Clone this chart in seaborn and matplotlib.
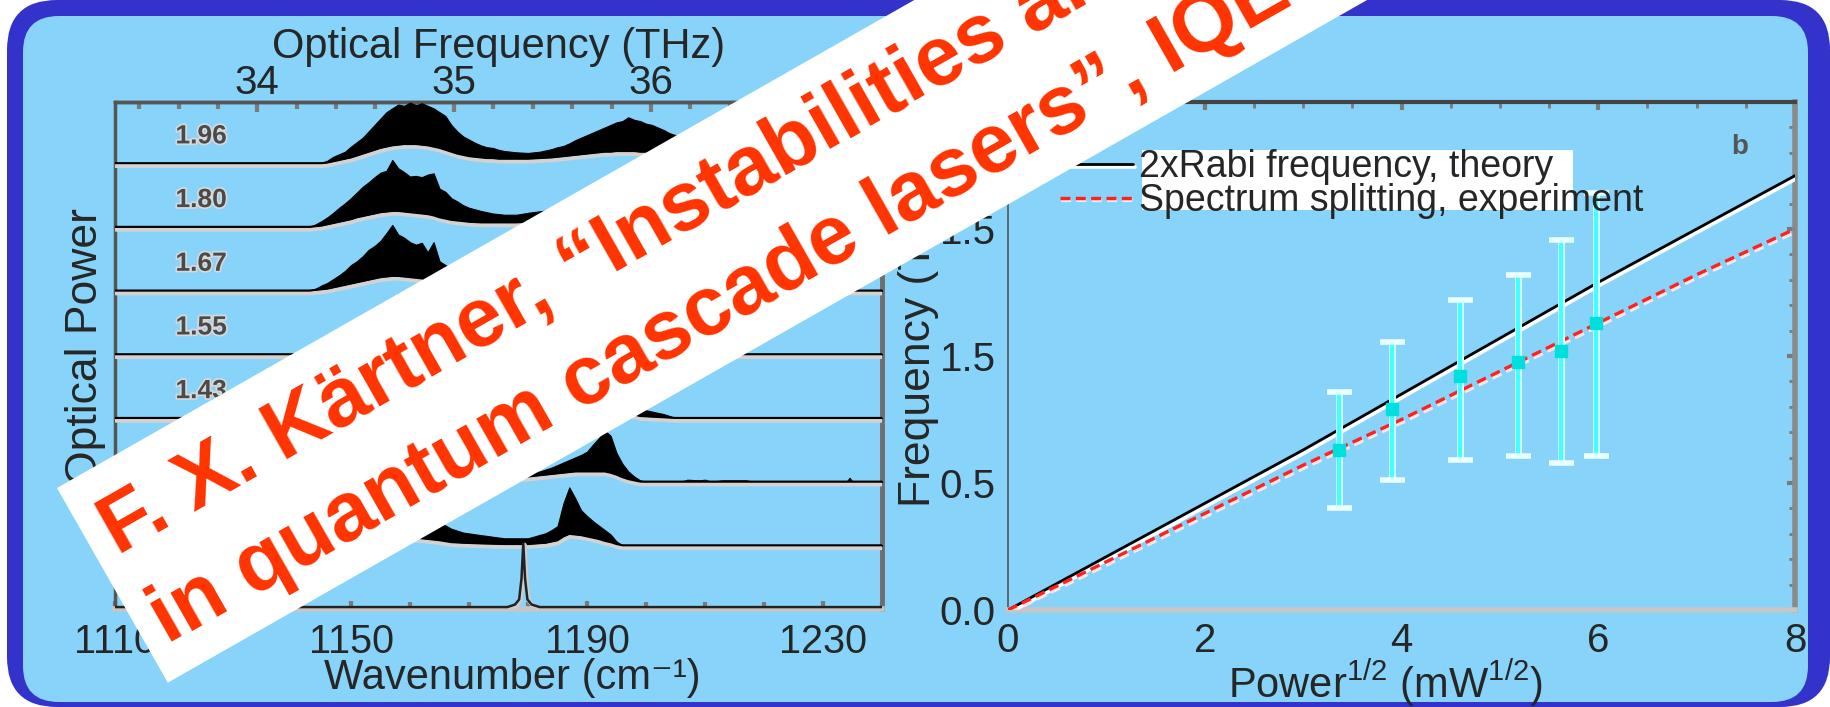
import numpy as np
import matplotlib
matplotlib.use("Agg")
import matplotlib.pyplot as plt
import matplotlib.patheffects as pe
from matplotlib.patches import FancyBboxPatch, Polygon, Rectangle
from matplotlib.ticker import MultipleLocator, FixedLocator
import seaborn as sns

# ---------------- left panel: stacked emission spectra ----------------
power_labels = ["1.96", "1.80", "1.67", "1.55", "1.43"]
trace_offsets = [7, 6, 5, 4, 3, 2, 1]
bottom_offset = 0.03

k1 = [1110, 1145, 1146, 1147, 1148, 1149, 1150, 1151, 1152, 1153, 1154, 1155, 1156, 1157, 1158,
      1159, 1160, 1161, 1162, 1163, 1164, 1165, 1166, 1167, 1168, 1169, 1170, 1171, 1172, 1173,
      1174, 1175, 1176, 1178, 1180, 1182, 1184, 1185, 1186, 1187, 1188, 1189, 1190, 1191, 1192,
      1193, 1194, 1195, 1196, 1197, 1198, 1199, 1200, 1201, 1202, 1203, 1204, 1205, 1206, 1207,
      1208, 1209, 1210, 1212, 1214, 1216, 1218, 1220, 1240]
up1 = [0, 0, 0.04, 0.10, 0.14, 0.18, 0.26, 0.33, 0.40, 0.50, 0.60, 0.70, 0.80, 0.86, 0.92,
       0.90, 0.95, 0.91, 0.94, 0.90, 0.86, 0.80, 0.74, 0.60, 0.50, 0.42, 0.37, 0.32, 0.28, 0.25,
       0.24, 0.21, 0.19, 0.17, 0.16, 0.18, 0.22, 0.25, 0.27, 0.31, 0.36, 0.40, 0.44, 0.48, 0.52,
       0.56, 0.60, 0.64, 0.66, 0.72, 0.68, 0.66, 0.62, 0.60, 0.56, 0.52, 0.47, 0.44, 0.40, 0.35,
       0.30, 0.27, 0.22, 0.15, 0.10, 0.05, 0.02, 0, 0]
lo1 = [0, 0, 0.01, 0.03, 0.05, 0.07, 0.09, 0.12, 0.15, 0.18, 0.21, 0.24, 0.26, 0.28, 0.29,
       0.30, 0.30, 0.30, 0.29, 0.28, 0.26, 0.24, 0.21, 0.18, 0.15, 0.13, 0.11, 0.10, 0.09, 0.08,
       0.08, 0.07, 0.07, 0.07, 0.07, 0.08, 0.09, 0.10, 0.11, 0.12, 0.13, 0.14, 0.15, 0.16, 0.17,
       0.18, 0.18, 0.19, 0.19, 0.19, 0.19, 0.18, 0.18, 0.17, 0.16, 0.15, 0.14, 0.13, 0.12, 0.10,
       0.09, 0.08, 0.07, 0.05, 0.03, 0.02, 0.01, 0, 0]

k2 = [1110, 1143, 1144, 1145, 1146, 1147, 1148, 1149, 1150, 1151, 1152, 1153, 1154, 1155, 1156,
      1157, 1158, 1159, 1160, 1161, 1162, 1163, 1164, 1165, 1166, 1167, 1168, 1169, 1170, 1172,
      1174, 1176, 1178, 1180, 1185, 1190, 1195, 1198, 1203, 1208, 1213, 1218, 1240]
up2 = [0, 0, 0.04, 0.09, 0.15, 0.22, 0.30, 0.37, 0.45, 0.54, 0.63, 0.70, 0.78, 0.85, 0.88,
       1.05, 0.92, 0.86, 0.79, 0.80, 0.78, 0.82, 0.84, 0.60, 0.55, 0.45, 0.40, 0.34, 0.30, 0.25,
       0.21, 0.19, 0.19, 0.22, 0.28, 0.40, 0.48, 0.50, 0.38, 0.22, 0.08, 0, 0]
lo2 = [0, 0, 0.01, 0.02, 0.04, 0.06, 0.08, 0.10, 0.12, 0.15, 0.17, 0.19, 0.21, 0.23, 0.24,
       0.25, 0.25, 0.24, 0.23, 0.22, 0.21, 0.20, 0.18, 0.15, 0.13, 0.11, 0.10, 0.09, 0.08, 0.07,
       0.07, 0.07, 0.07, 0.08, 0.09, 0.12, 0.14, 0.14, 0.11, 0.07, 0.03, 0, 0]

k3 = [1110, 1143, 1144, 1145, 1146, 1147, 1148, 1149, 1150, 1151, 1152, 1153, 1154, 1155, 1156,
      1157, 1158, 1159, 1160, 1161, 1162, 1163, 1164, 1165, 1166, 1168, 1172, 1178, 1185, 1190,
      1195, 1200, 1205, 1210, 1215, 1240]
up3 = [0, 0, 0.03, 0.08, 0.12, 0.18, 0.24, 0.31, 0.40, 0.46, 0.54, 0.64, 0.70, 0.78, 0.90,
       1.03, 0.88, 0.83, 0.76, 0.72, 0.75, 0.60, 0.76, 0.46, 0.40, 0.30, 0.18, 0.14, 0.22, 0.32,
       0.38, 0.30, 0.15, 0.05, 0, 0]
lo3 = [0, 0, 0.01, 0.02, 0.03, 0.05, 0.07, 0.09, 0.11, 0.13, 0.15, 0.17, 0.19, 0.21, 0.22,
       0.23, 0.23, 0.22, 0.21, 0.20, 0.19, 0.17, 0.15, 0.13, 0.11, 0.09, 0.06, 0.05, 0.07, 0.10,
       0.12, 0.10, 0.05, 0.02, 0, 0]

k4 = [1110, 1146, 1150, 1155, 1158, 1162, 1166, 1170, 1178, 1186, 1192, 1196, 1200, 1205, 1210, 1214, 1240]
up4 = [0, 0, 0.30, 0.70, 0.95, 0.75, 0.45, 0.25, 0.15, 0.30, 0.45, 0.50, 0.35, 0.15, 0.03, 0, 0]
lo4 = [0, 0, 0.10, 0.20, 0.24, 0.20, 0.12, 0.07, 0.05, 0.08, 0.12, 0.13, 0.09, 0.04, 0.01, 0, 0]

k5 = [1110, 1148, 1153, 1158, 1161, 1165, 1170, 1178, 1186, 1192, 1196, 1199, 1201, 1203, 1205, 1240]
up5 = [0, 0, 0.30, 0.70, 0.85, 0.60, 0.30, 0.15, 0.30, 0.50, 0.40, 0.14, 0.10, 0.06, 0, 0]
lo5 = [0, 0, 0.08, 0.18, 0.22, 0.16, 0.08, 0.05, 0.08, 0.13, 0.10, 0.03, 0.02, 0.01, 0, 0]

k6 = [1110, 1150, 1155, 1160, 1163, 1168, 1175, 1180, 1182, 1184, 1186, 1187, 1188, 1189, 1190,
      1191, 1192, 1193, 1194, 1195, 1196, 1197, 1198, 1199, 1200, 1206, 1207, 1209, 1210, 1211,
      1213, 1217, 1218, 1234, 1234.5, 1235, 1240]
up6 = [0, 0, 0.30, 0.70, 0.60, 0.30, 0.15, 0.14, 0.16, 0.22, 0.30, 0.34, 0.38, 0.42, 0.47,
       0.58, 0.68, 0.80, 0.72, 0.45, 0.28, 0.16, 0.08, 0.02, 0, 0, 0.03, 0.02, 0.03, 0,
       0.02, 0.02, 0, 0, 0.06, 0, 0]
lo6 = [0, 0, 0.08, 0.18, 0.15, 0.08, 0.05, 0.08, 0.10, 0.12, 0.14, 0.15, 0.16, 0.16, 0.16,
       0.16, 0.16, 0.16, 0.14, 0.11, 0.07, 0.04, 0.02, 0, 0, 0, 0, 0, 0, 0,
       0, 0, 0, 0, 0, 0, 0]

k7 = [1110, 1152, 1156, 1159, 1161, 1163, 1165, 1167, 1169, 1172, 1176, 1180, 1183, 1184, 1185,
      1186, 1187, 1188, 1189, 1190, 1191, 1192, 1193, 1194, 1195, 1196, 1240]
up7 = [0, 0, 0.30, 0.55, 0.52, 0.45, 0.36, 0.26, 0.20, 0.16, 0.11, 0.11, 0.19, 0.24, 0.30,
       0.66, 0.91, 0.74, 0.55, 0.46, 0.38, 0.31, 0.24, 0.17, 0.06, 0, 0]
lo7 = [0, 0, 0.06, 0.12, 0.12, 0.10, 0.08, 0.05, 0.04, 0.03, 0.02, 0.02, 0.04, 0.06, 0.08,
       0.14, 0.18, 0.17, 0.16, 0.14, 0.12, 0.10, 0.07, 0.05, 0.02, 0, 0]

k8 = [1110, 1176.5, 1177.8, 1178.5, 1178.9, 1179.2, 1179.5, 1179.9, 1180.6, 1182, 1240]
y8 = [0, 0, 0.04, 0.12, 0.45, 1.0, 0.45, 0.12, 0.04, 0, 0]

wn_ticks = [1110, 1150, 1190, 1230]
thz_ticks = [34, 35, 36]

# ---------------- right panel ----------------
sqrt_power = [0, 1, 2, 3, 4, 5, 6, 7, 8]
rabi_theory = [0, 0.21, 0.42, 0.63, 0.85, 1.07, 1.29, 1.50, 1.71]
split_fit = [0, 0.19, 0.38, 0.57, 0.75, 0.94, 1.13, 1.32, 1.50]

meas_x = [3.36, 3.90, 4.59, 5.18, 5.62, 5.98]
meas_y = [0.63, 0.79, 0.92, 0.975, 1.02, 1.13]
meas_hi = [0.86, 1.055, 1.22, 1.32, 1.455, 1.64]
meas_lo = [0.40, 0.51, 0.59, 0.605, 0.58, 0.605]

pw_ticks = [0, 2, 4, 6, 8]
fr_ticks = [0.0, 0.5, 1.0, 1.5]
fr_tick_labels = ["0.0", "0.5", "1.5", "1.5"]

# ---------------- style ----------------
sns.set_style("white")
plt.rcParams["font.family"] = ["Liberation Sans", "DejaVu Sans"]
plt.rcParams["mathtext.fontset"] = "custom"
plt.rcParams["mathtext.rm"] = "Liberation Sans"
plt.rcParams["mathtext.it"] = "Liberation Sans:italic"
plt.rcParams["mathtext.bf"] = "Liberation Sans:bold"

W, H = 1830, 707
fig = plt.figure(figsize=(18.3, 7.07), dpi=100)
fig.patch.set_facecolor("white")


def px2in(x, y):
    return (x / 100.0, (H - y) / 100.0)


fig.add_artist(FancyBboxPatch(px2in(7, 707), 18.23, 7.07,
                              boxstyle="round,pad=0,rounding_size=0.5",
                              transform=fig.dpi_scale_trans, fc="#3333cc", ec="none", zorder=-10))
fig.add_artist(FancyBboxPatch(px2in(23, 702), (1808 - 23) / 100, (702 - 16) / 100,
                              boxstyle="round,pad=0,rounding_size=0.36",
                              transform=fig.dpi_scale_trans, fc="#87d3fa", ec="none", zorder=-9))

axL = fig.add_axes([115 / W, 1 - 609 / H, 767 / W, 507 / H])
axR = fig.add_axes([1008 / W, 1 - 610 / H, 787 / W, 508 / H])
for ax in (axL, axR):
    ax.set_facecolor("none")
    ax.grid(False)

# ---- left panel drawing
base_fx = [pe.SimpleLineShadow(offset=(0.6, -2.0), shadow_color="#d2d2d2", alpha=1.0, linewidth=3.0),
           pe.Normal()]
traces = [(k1, up1, lo1), (k2, up2, lo2), (k3, up3, lo3), (k4, up4, lo4),
          (k5, up5, lo5), (k6, up6, lo6), (k7, up7, lo7)]
for off, (k, up, lo) in zip(trace_offsets, traces):
    k = np.asarray(k, float)
    up = np.asarray(up, float)
    lo = np.asarray(lo, float)
    axL.fill_between(k, off + lo, off + up, color="black", linewidth=0.8, zorder=3)
    axL.plot(k, off + lo, color="black", lw=1.5, zorder=4, path_effects=base_fx)
axL.plot(k8, bottom_offset + np.asarray(y8), color="#222222", lw=1.8, zorder=4,
         path_effects=[pe.SimpleLineShadow(offset=(1, -1), shadow_color="#cccccc", alpha=1, linewidth=3),
                       pe.Normal()])

for off, lab in zip(trace_offsets, power_labels):
    axL.text(1124.6, off + 0.42, lab, ha="center", va="center", fontsize=19, fontweight="bold",
             color="#4a4a4a", zorder=5,
             path_effects=[pe.withStroke(linewidth=2.5, foreground="#d8d8d8")])

axL.set_xlim(1110, 1240)
axL.set_ylim(0, 7.96)
axL.set_yticks([])
axL.xaxis.set_major_locator(FixedLocator(wn_ticks))
axL.xaxis.set_minor_locator(MultipleLocator(10))
axL.tick_params(axis="x", which="major", direction="in", length=6, width=3, color="#7a7a7a",
                labelsize=28.5, pad=10, bottom=True, top=False)
axL.tick_params(axis="x", which="minor", direction="in", length=5, width=3, color="#7a7a7a",
                bottom=True, top=False)
axL.set_xlabel("Wavenumber (cm\u207b\u00b9)", fontsize=30)
axL.xaxis.set_label_coords(0.5176, -0.097)
axL.set_ylabel("Optical Power", fontsize=32)
axL.yaxis.set_label_coords(-0.012, 0.517)
axL.spines["top"].set(color="#555555", lw=2.5)
axL.spines["left"].set(color="#555555", lw=2.5)
axL.spines["right"].set(color="#6e6e6e", lw=3.5)
axL.spines["bottom"].set(color="#c6c6c6", lw=4)

C = 0.0299792458
sec = axL.secondary_xaxis("top", functions=(lambda k: k * C, lambda f: f / C))
sec.set_xticks(thz_ticks)
sec.xaxis.set_minor_locator(MultipleLocator(0.2))
sec.tick_params(axis="x", which="major", direction="in", length=7, width=3, color="#7a7a7a",
                labelsize=29, pad=0)
sec.tick_params(axis="x", which="minor", direction="in", length=5, width=3, color="#7a7a7a")
sec.set_xlabel("Optical Frequency (THz)", fontsize=30, labelpad=4)
sec.spines["top"].set(color="#555555", lw=2.5)

# ---- right panel drawing
white_fx = [pe.SimpleLineShadow(offset=(1.2, -2.0), shadow_color="white", alpha=1.0, linewidth=2.6),
            pe.Normal()]
sns.lineplot(x=sqrt_power, y=rabi_theory, ax=axR, color="black", linewidth=2.0,
             label="2xRabi frequency, theory", path_effects=white_fx, zorder=3)
line_theory = axR.lines[-1]
sns.lineplot(x=sqrt_power, y=split_fit, ax=axR, color="#ff2020", linewidth=2.4,
             linestyle=(0, (3, 1.6)), label="Spectrum splitting, experiment",
             path_effects=[pe.SimpleLineShadow(offset=(1.0, -1.6), shadow_color="#ffe6e6", alpha=1.0,
                                               linewidth=3.0), pe.Normal()], zorder=3)
line_exp = axR.lines[-1]

my = np.asarray(meas_y)
yerr = [my - np.asarray(meas_lo), np.asarray(meas_hi) - my]
eb = axR.errorbar(meas_x, meas_y, yerr=yerr, fmt="s", ms=9, mfc="#00dede", mec="#00dede",
                  ecolor="#44ffff", elinewidth=3, capsize=9, capthick=4, zorder=4)
for cap in eb[1]:
    cap.set_markeredgecolor("#eaffff")
for col in eb[2]:
    col.set_path_effects([pe.Stroke(linewidth=5, foreground="#d8ffff"), pe.Normal()])

axR.set_xlim(0, 8)
axR.set_ylim(0, 2.0)
axR.set_xticks(pw_ticks)
axR.xaxis.set_minor_locator(MultipleLocator(0.5))
axR.set_yticks(fr_ticks)
axR.set_yticklabels(fr_tick_labels)
axR.yaxis.set_minor_locator(MultipleLocator(0.1))
axR.tick_params(which="both", direction="in", top=True, right=True, color="#7a7a7a")
axR.tick_params(which="major", length=6, width=3, labelsize=29)
axR.tick_params(which="minor", length=4, width=2)
axR.tick_params(axis="x", which="major", pad=9)
axR.tick_params(axis="y", which="major", pad=9)
axR.set_xlabel(r"Power$^{\rm 1/2}$ (mW$^{\rm 1/2}$)", fontsize=30)
axR.xaxis.set_label_coords(0.480, -0.094)
axR.set_ylabel("Frequency (THz)", fontsize=32)
axR.yaxis.set_label_coords(-0.0877, 0.531)
axR.spines["top"].set(color="#444444", lw=3)
axR.spines["left"].set(color="#555555", lw=1.2)
axR.spines["right"].set(color="#8a8a8a", lw=4)
axR.spines["bottom"].set(color="#c6c6c6", lw=4)
axR.text(0.930, 0.911, "b", transform=axR.transAxes, fontsize=20, fontweight="bold",
         color="#555555", ha="center", va="center")

fig.add_artist(Rectangle(px2in(1142, 210), (1573 - 1142) / 100, 0.60,
                         transform=fig.dpi_scale_trans, fc="white", ec="none", zorder=-1))
axR.legend(handles=[line_theory, line_exp],
           labels=["2xRabi frequency, theory", "Spectrum splitting, experiment"],
           loc="upper left", bbox_to_anchor=(1060 / W, 1 - 149 / H), bbox_transform=fig.transFigure,
           frameon=False, fontsize=27, handlelength=1.95, handletextpad=0.15, labelspacing=-0.05,
           borderpad=0, borderaxespad=0)

# ---- citation banner across the slide
ang = np.deg2rad(29.65)
u = np.array([np.cos(ang), -np.sin(ang)])
v = np.array([np.sin(ang), np.cos(ang)])
P0 = np.array([57.0, 488.0])
corners = [P0, P0 + 2200 * u, P0 + 2200 * u + 224 * v, P0 + 224 * v]
fig.add_artist(Polygon([px2in(*c) for c in corners], closed=True, transform=fig.dpi_scale_trans,
                       fc="white", ec="none", zorder=10))
banner_kw = dict(rotation=29.65, rotation_mode="anchor", ha="left", va="baseline",
                 fontsize=60, fontweight="bold", color="#ff3300", zorder=12)
fig.text(117.6 / W, 1 - 555.9 / H, "F. X. Kärtner, “Instabilities and", **banner_kw)
fig.text(168.0 / W, 1 - 645.6 / H, "in quantum cascade lasers”, IQEC", **banner_kw)

fig.savefig("out.png", dpi=100, facecolor=fig.get_facecolor())
